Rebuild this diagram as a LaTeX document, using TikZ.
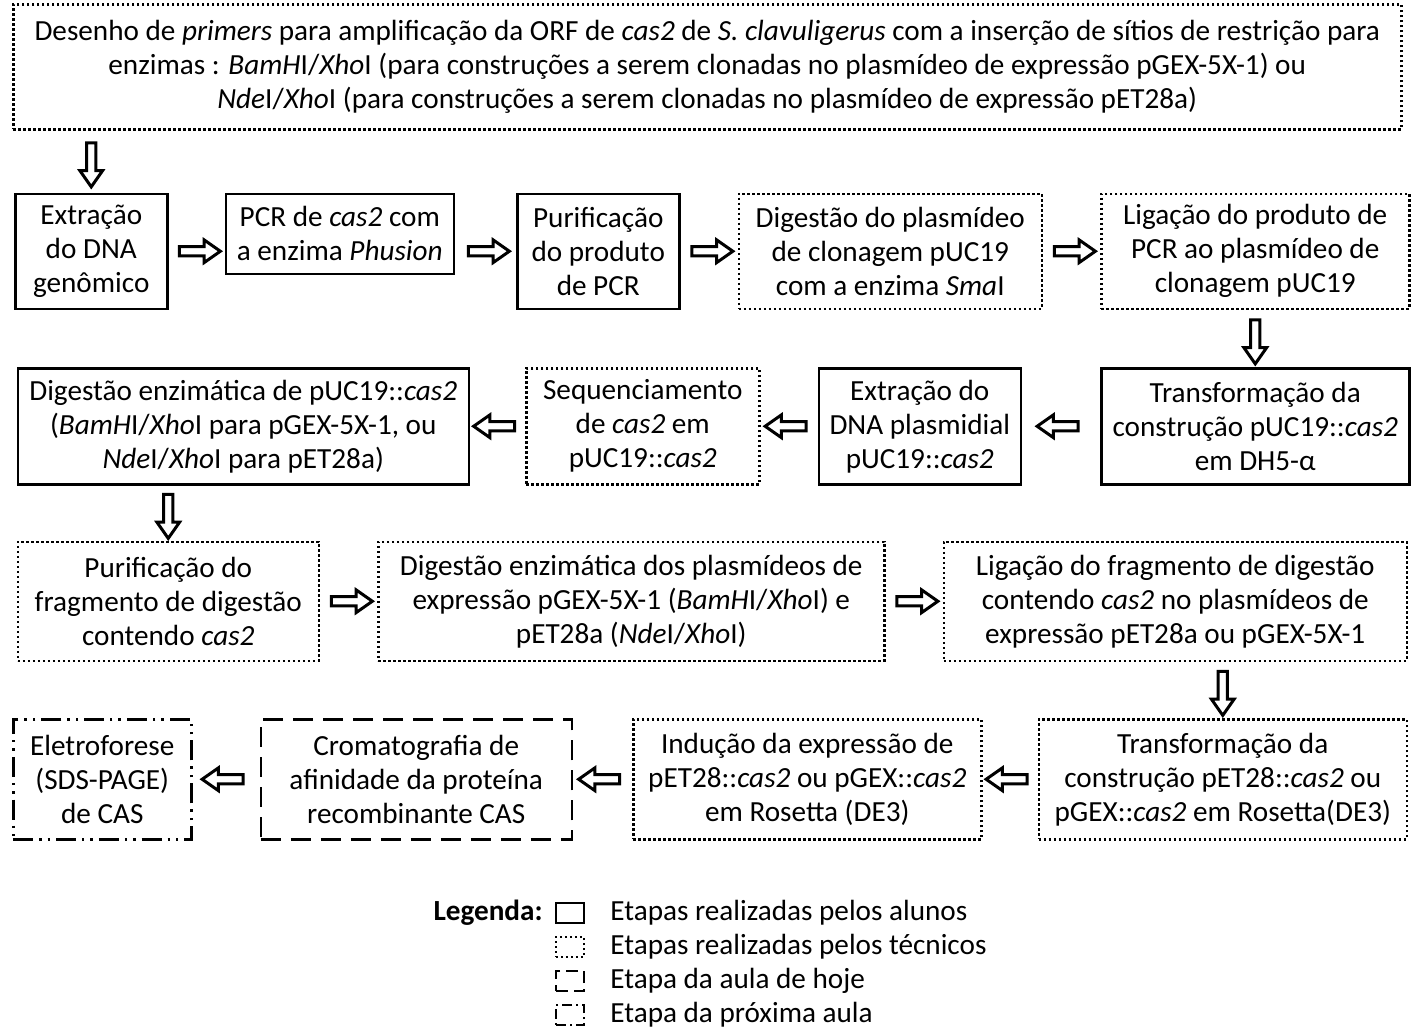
\documentclass[tikz,border=0pt]{standalone}
\usepackage{fontspec}
\setmainfont{Carlito}
\usetikzlibrary{positioning,shapes.arrows}

\tikzstyle{etapa} = [rectangle, align=center, inner sep=2pt, line width=1.25pt, draw=black, font=\fontsize{14.6}{17}\selectfont]
\tikzstyle{aluno} = [etapa]
\tikzstyle{tecnico} = [etapa, dash pattern=on 1.2pt off 1.3pt]
\tikzstyle{hoje} = [etapa, dash pattern=on 10pt off 5pt]
\tikzstyle{proxima} = [etapa, dash pattern=on 10pt off 3pt on 1.2pt off 3pt on 1.2pt off 3pt]
\tikzstyle{seta} = [single arrow, draw=black, fill=white, line width=1.5pt, minimum height=20.5pt, inner sep=1.6pt, single arrow head extend=3.3pt, single arrow tip angle=70]
\tikzstyle{setabaixo} = [shape border rotate=270, minimum height=22pt]
\tikzstyle{setaesq} = [shape border rotate=180]
\tikzstyle{legtexto} = [inner sep=0pt, anchor=west, font=\fontsize{14.6}{17}\selectfont]

\begin{document}
\begin{tikzpicture}
\useasboundingbox (0,0) rectangle (706pt,-514pt);

\node[tecnico, minimum width=694pt, minimum height=62.5pt, anchor=north west] (desenho) at (6pt,-1.5pt) {Desenho de \textit{primers} para amplificação da ORF de \textit{cas2} de \textit{S. clavuligerus} com a inserção de sítios de restrição para\\enzimas : \textit{BamH}I/\textit{Xho}I (para construções a serem clonadas no plasmídeo de expressão pGEX-5X-1) ou\\\textit{Nde}I/\textit{Xho}I (para construções a serem clonadas no plasmídeo de expressão pET28a)};

% primeira linha
\node[aluno, minimum width=76pt, minimum height=57.5pt] (extr) [below=31pt of desenho.south west, anchor=north west, xshift=1pt] {Extração\\do DNA\\genômico};
\node[aluno, minimum width=114pt, minimum height=40pt] (pcr) [right=28pt of extr.north east, anchor=north west] {PCR de \textit{cas2} com\\a enzima \textit{Phusion}};
\node[aluno, minimum width=81pt, minimum height=57.5pt] (purif) [right=30.5pt of pcr.north east, anchor=north west] {Purificação\\do produto\\de PCR};
\node[tecnico, minimum width=151.5pt, minimum height=57.5pt] (digpuc) [right=28.5pt of purif] {Digestão do plasmídeo\\de clonagem pUC19\\com a enzima \textit{Sma}I};
\node[tecnico, minimum width=154pt, minimum height=57.5pt] (ligpuc) [right=28.5pt of digpuc] {Ligação do produto de\\PCR ao plasmídeo de\\clonagem pUC19};

% segunda linha
\node[aluno, minimum width=154pt, minimum height=58pt] (transf) [below=28.5pt of ligpuc] {Transformação da\\construção pUC19::\textit{cas2}\\em DH5-α};
\node[aluno, minimum width=101pt, minimum height=58pt] (extrpl) [left=39pt of transf] {Extração do\\DNA plasmidial\\pUC19::\textit{cas2}};
\node[tecnico, minimum width=116.5pt, minimum height=58pt] (seq) [left=28.5pt of extrpl] {Sequenciamento\\de \textit{cas2} em\\pUC19::\textit{cas2}};
\node[aluno, minimum width=225.5pt, minimum height=58pt] (digcas) [left=27.5pt of seq] {Digestão enzimática de pUC19::\textit{cas2}\\(\textit{BamH}I/\textit{Xho}I para pGEX-5X-1, ou\\\textit{Nde}I/\textit{Xho}I para pET28a)};

% terceira linha
\node[tecnico, minimum width=150.5pt, minimum height=59.5pt] (purfrag) [below=27.5pt of digcas.south west, anchor=north west] {Purificação do\\fragmento de digestão\\contendo \textit{cas2}};
\node[tecnico, minimum width=253pt, minimum height=59.5pt] (digexp) [right=28.5pt of purfrag] {Digestão enzimática dos plasmídeos de\\expressão pGEX-5X-1 (\textit{BamH}I/\textit{Xho}I) e\\pET28a (\textit{Nde}I/\textit{Xho}I)};
\node[tecnico, minimum width=231.5pt, minimum height=59.5pt] (ligexp) [right=28.5pt of digexp] {Ligação do fragmento de digestão\\contendo \textit{cas2} no plasmídeos de\\expressão pET28a ou pGEX-5X-1};

% quarta linha
\node[tecnico, minimum width=184pt, minimum height=60pt] (transfros) [below=28pt of ligexp.south east, anchor=north east] {Transformação da\\construção pET28::\textit{cas2} ou\\pGEX::\textit{cas2} em Rosetta(DE3)};
\node[tecnico, minimum width=174pt, minimum height=60pt] (inducao) [left=27.5pt of transfros] {Indução da expressão de\\pET28::\textit{cas2} ou pGEX::\textit{cas2}\\em Rosetta (DE3)};
\node[hoje, minimum width=155.5pt, minimum height=60pt] (croma) [left=29.5pt of inducao] {Cromatografia de\\afinidade da proteína\\recombinante CAS};
\node[proxima, minimum width=89pt, minimum height=60pt] (eletro) [left=33.5pt of croma] {Eletroforese\\(SDS-PAGE)\\de CAS};

\path (desenho.south -| extr.north) -- node[seta, setabaixo] {} (extr.north);
\path (extr.east) -- node[seta] {} (extr.east -| pcr.west);
\path (purif.west -| pcr.east) -- node[seta] {} (purif.west);
\path (purif) -- node[seta] {} (digpuc);
\path (digpuc) -- node[seta] {} (ligpuc);
\path (ligpuc) -- node[seta, setabaixo] {} (transf);
\path (transf) -- node[seta, setaesq] {} (extrpl);
\path (extrpl) -- node[seta, setaesq] {} (seq);
\path (seq) -- node[seta, setaesq] {} (digcas);
\path (digcas.south -| purfrag.north) -- node[seta, setabaixo] {} (purfrag.north);
\path (purfrag) -- node[seta] {} (digexp);
\path (digexp) -- node[seta] {} (ligexp);
\path (ligexp.south -| transfros.north) -- node[seta, setabaixo] {} (transfros.north);
\path (transfros) -- node[seta, setaesq] {} (inducao);
\path (inducao) -- node[seta, setaesq] {} (croma);
\path (croma) -- node[seta, setaesq] {} (eletro);

% legenda
\node[aluno, minimum width=14pt, minimum height=10pt, line width=1pt] (legaluno) at (285pt,-456.5pt) {};
\node[tecnico, minimum width=14pt, minimum height=10pt, line width=1pt] (legtecnico) [below=6pt of legaluno] {};
\node[hoje, minimum width=14pt, minimum height=10pt, line width=1pt, dash pattern=on 6pt off 3pt] (leghoje) [below=6pt of legtecnico] {};
\node[proxima, minimum width=14pt, minimum height=10pt, line width=1pt, dash pattern=on 5pt off 2pt on 1pt off 2pt] (legproxima) [below=6pt of leghoje] {};
\node[legtexto, anchor=east, font=\fontsize{14.6}{17}\selectfont\bfseries] (legenda) [left=6pt of legaluno] {Legenda:};
\node[legtexto] (txaluno) [right=12.5pt of legaluno] {Etapas realizadas pelos alunos};
\node[legtexto] (txtecnico) [right=12.5pt of legtecnico] {Etapas realizadas pelos técnicos};
\node[legtexto] (txhoje) [right=12.5pt of leghoje] {Etapa da aula de hoje};
\node[legtexto] (txproxima) [right=12.5pt of legproxima] {Etapa da próxima aula};

\end{tikzpicture}
\end{document}
